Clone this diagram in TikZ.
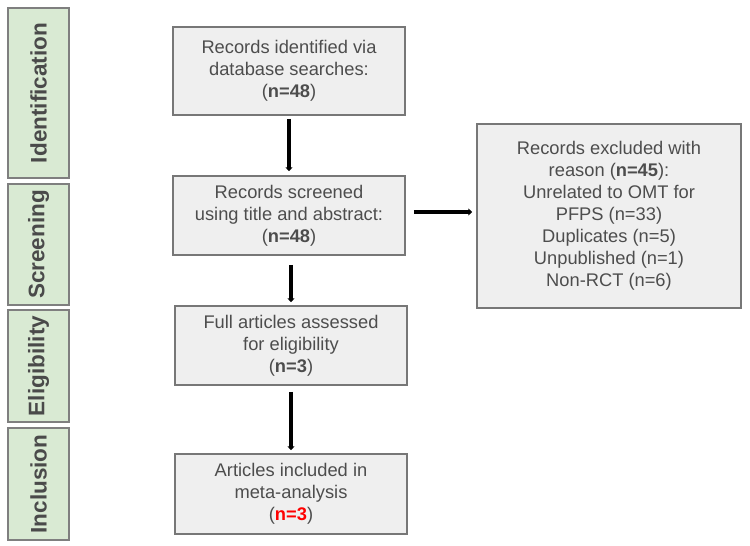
\documentclass[tikz,border=0pt]{standalone}
\usepackage{fontspec}
\setmainfont{Liberation Sans}
\usepackage{xcolor}
\usepackage{tikz}
\usetikzlibrary{arrows.meta}

\definecolor{boxfill}{HTML}{EFEFEF}
\definecolor{boxline}{HTML}{777777}
\definecolor{txtgrey}{HTML}{4D4D4D}
\definecolor{stagetxt}{HTML}{4A4A4A}
\definecolor{stagefill}{HTML}{D9EAD3}
\definecolor{stageline}{HTML}{7F7F7F}

\tikzset{
    stagebox/.style={draw=stageline,fill=stagefill,line width=1.6pt,rotate=90,
        minimum height=61pt,inner sep=0pt,text=stagetxt,
        font=\fontsize{22.5}{26}\selectfont\bfseries},
    flowbox/.style={draw=boxline,fill=boxfill,line width=1.5pt,minimum width=232pt,
        align=center,inner sep=0pt,text=txtgrey,font=\fontsize{18.3}{22}\selectfont},
    flowarrow/.style={line width=3.8pt,-{Triangle[length=4pt,width=7pt]}}
}

\begin{document}
\begin{tikzpicture}[x=1pt,y=-1pt]
    \useasboundingbox (0,0) rectangle (750,546);

    \foreach \name/\txt/\y/\h in {ident/Identification/93/170,screen/Screening/244.5/121,
        elig/Eligibility/366/112,incl/Inclusion/484/112}{
        \node[stagebox,minimum width=\h pt] (\name) at (38.5,\y) {\txt};
    }

    \node[flowbox,minimum height=88pt] (found) at (289,71)
        {Records identified via\\database searches:\\(\textbf{n=48})};
    \node[flowbox,minimum height=79pt] (screened) at (289,215.5)
        {Records screened\\using title and abstract:\\(\textbf{n=48})};
    \node[flowbox,minimum height=79pt] (full) at (291,345.5)
        {Full articles assessed\\for eligibility\\(\textbf{n=3})};
    \node[flowbox,minimum height=80pt] (included) at (291,494)
        {Articles included in\\meta-analysis\\(\textcolor{red}{\textbf{n=3}})};
    \node[flowbox,minimum width=264pt,minimum height=184pt] (excluded) at (609,216)
        {Records excluded with\\reason (\textbf{n=45}):\\Unrelated to OMT for\\PFPS (n=33)\\
         Duplicates (n=5)\\Unpublished (n=1)\\Non-RCT (n=6)};

    \draw[flowarrow,shorten <=3pt,shorten >=4pt] (found.south) -- (screened.north);
    \draw[flowarrow,shorten <=9pt,shorten >=3pt] ([xshift=2pt]screened.south) -- (full.north);
    \draw[flowarrow,shorten <=6pt,shorten >=3pt] (full.south) -- (included.north);
    \draw[flowarrow,shorten <=8pt,shorten >=4pt] ([yshift=3.5pt]screened.east)
        -- ([yshift=3.5pt]excluded.west |- screened.east);
\end{tikzpicture}
\end{document}
